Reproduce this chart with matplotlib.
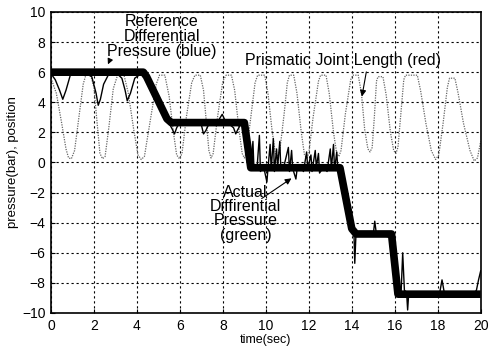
import numpy as np
import matplotlib.pyplot as plt

plt.rcParams['font.family'] = ['Liberation Sans', 'DejaVu Sans']

# Longitud de la junta prismatica (roja en el original)
largo_t = [0.0, 0.25, 0.5, 0.7, 0.82, 0.95, 1.1, 1.3, 1.5, 1.62, 1.85, 2.0, 2.15, 2.28, 2.4, 2.52,
           2.7, 2.9, 3.1, 3.4, 3.6, 3.85, 4.05, 4.2, 4.35, 4.6, 4.9, 5.05, 5.3, 5.5, 5.7, 5.85,
           5.98, 6.1, 6.3, 6.55, 6.7, 6.95, 7.1, 7.25, 7.35, 7.45, 7.55, 7.75, 8.0, 8.15, 8.4,
           8.55, 8.75, 8.9, 9.0, 9.1, 9.3, 9.5, 9.62, 9.95, 10.1, 10.3, 10.45, 10.55, 10.65,
           10.85, 11.0, 11.1, 11.3, 11.45, 11.65, 11.8, 11.9, 12.0, 12.2, 12.45, 12.55, 12.8,
           12.95, 13.15, 13.3, 13.4, 13.5, 13.7, 13.95, 14.05, 14.3, 14.45, 14.6, 14.75, 14.85,
           14.95, 15.05, 15.15, 15.22, 15.45, 15.6, 15.8, 15.95, 16.05, 16.15, 16.3, 16.42,
           16.5, 17.05, 17.2, 17.45, 17.7, 17.9, 18.05, 18.25, 18.45, 18.55, 18.8, 18.95, 19.2,
           19.5, 19.7, 19.85, 20.0]
largo_y = [5.6, 4.6, 2.6, 0.9, 0.3, 0.25, 0.8, 3.0, 5.2, 5.8, 5.8, 5.0, 2.6, 0.6, 0.25, 0.4,
           2.4, 4.9, 5.8, 5.8, 4.6, 2.2, 0.5, 0.2, 0.4, 2.6, 5.2, 5.8, 5.8, 4.4, 2.0, 0.5,
           0.25, 0.6, 3.0, 5.3, 5.8, 5.8, 4.8, 2.4, 0.8, 0.3, 0.6, 3.0, 5.4, 5.8, 5.8,
           4.8, 2.2, 0.6, 0.3, 0.7, 3.0, 5.3, 5.8, 5.8, 4.6, 2.0, 0.6, 0.4, 0.8,
           3.2, 5.3, 5.8, 5.8, 4.6, 2.0, 0.5, 0.3, 0.6, 3.0, 5.4, 5.8, 5.8,
           4.6, 2.0, 0.6, 0.4, 0.8, 3.2, 5.5, 5.8, 5.8, 4.6, 2.2, 0.9, 0.7,
           1.0, 3.0, 5.4, 5.7, 5.7, 4.5, 2.0, 0.8, 0.6, 1.0, 3.5, 5.5,
           5.8, 5.8, 4.8, 2.6, 0.8, 0.2, 0.5, 2.6, 5.0, 5.6, 5.6, 4.6, 2.6,
           0.8, 0.1, 0.3, 1.4]

# Presion diferencial de referencia (azul)
ref_t = [0, 4.3, 4.45, 5.4, 5.6, 9.0, 9.3, 13.45, 14.0, 14.2, 15.85, 16.15, 20]
ref_p = [6.0, 6.0, 5.7, 2.9, 2.65, 2.65, -0.35, -0.35, -4.4, -4.75, -4.75, -8.75, -8.75]

# Presion diferencial real (verde)
real_t = [0.0, 0.2, 0.4, 0.55, 0.7, 0.9, 1.2, 1.5, 1.9, 2.1, 2.2, 2.3, 2.45, 2.7, 3.0, 3.3,
          3.45, 3.55, 3.7, 3.9, 4.2, 4.4, 4.7, 5.0, 5.3, 5.5, 5.65, 5.75, 5.85, 6.0, 6.4, 6.8,
          7.0, 7.1, 7.2, 7.4, 7.8, 7.97, 8.1, 8.5, 8.6, 8.7, 8.9, 9.05, 9.1, 9.2, 9.3,
          9.4, 9.45, 9.6, 9.7, 9.75, 9.9, 10.05, 10.1, 10.2, 10.25, 10.35, 10.4, 10.5, 10.55,
          10.65, 10.7, 10.85, 11.05, 11.1, 11.2, 11.25, 11.4, 11.45, 11.6, 11.75, 11.9, 11.95,
          12.1, 12.15, 12.3, 12.35, 12.45, 12.5, 12.7, 12.85, 13.0, 13.05, 13.15, 13.2, 13.3,
          13.35, 13.45, 13.6, 13.75, 13.9, 14.0, 14.1, 14.14, 14.2, 14.6, 15.0, 15.07, 15.15,
          15.6, 15.8, 15.9, 16.0, 16.1, 16.2, 16.3, 16.37, 16.45, 16.55, 16.6, 16.65, 17.5,
          18.1, 18.2, 18.3, 19.0, 19.6, 19.8, 19.9, 20.0]
real_p = [5.9, 5.5, 4.8, 4.2, 4.8, 5.8, 5.9, 6.0, 5.7, 4.6, 3.8, 4.2, 5.2, 5.9, 6.0, 5.6,
          4.8, 4.1, 4.6, 5.6, 5.9, 5.8, 5.1, 4.0, 3.0, 2.6, 2.2, 1.9, 2.3, 2.7, 2.8, 2.7,
          2.5, 1.9, 2.1, 2.7, 2.8, 3.2, 2.8, 2.3, 1.9, 2.2, 2.7, 2.6, 1.5, 0.2, -0.4,
          1.4, -0.5, -0.2, 1.8, -0.6, -0.3, -1.3, -0.4, 1.2, -0.5, 1.6, -0.6, 0.9, -0.3,
          1.4, -0.5, -0.2, 1.0, -0.6, 0.8, -0.4, -1.1, -0.5, -0.2, -0.6, 0.7, -0.4,
          0.5, -0.6, 0.8, -0.3, 0.6, -0.7, -0.3, -0.6, 0.9, -0.4, 1.2, -0.5, 0.7,
          -0.4, -0.6, -2.0, -3.0, -4.0, -4.4, -4.6, -6.7, -4.6, -4.7, -4.8, -3.9, -4.8,
          -4.9, -5.0, -5.6, -7.0, -8.2, -8.6, -8.5, -6.0, -8.5, -8.6, -9.8, -8.7, -8.8,
          -8.6, -7.8, -8.6, -8.8, -8.8, -8.5, -7.8, -7.2]

fig = plt.figure(figsize=(4.9, 3.48), dpi=100)
ax = fig.add_axes([0.104, 0.1006, 0.877, 0.865])

ax.plot(largo_t, largo_y, color='0.4', lw=0.9, ls=(0, (1, 1)))
ax.plot(ref_t, ref_p, color='black', lw=5.5, solid_capstyle='butt')
ax.plot(real_t, real_p, color='black', lw=1.0)

ax.set_xlim(0, 20)
ax.set_ylim(-10, 10)
ax.set_xticks(np.arange(0, 21, 2))
ax.set_yticks(np.arange(-10, 11, 2))
ax.tick_params(direction='in', labelsize=10, length=3, pad=4)
ax.grid(True, color='black', lw=0.8, ls=(0, (2, 2.5)))
for s in ax.spines.values():
    s.set_linewidth(1.2)

ax.set_xlabel('time(sec)', fontsize=9, labelpad=1)
ax.set_ylabel('pressure(bar), position', fontsize=9.5, labelpad=2)

ax.text(5.15, 8.35, 'Reference\nDifferential\nPressure (blue)', ha='center', va='center',
        fontsize=11.5, linespacing=1.0)
ax.annotate('', xy=(2.6, 6.35), xytext=(2.8, 7.0),
            arrowprops=dict(arrowstyle='-|>', color='black', lw=0.8, mutation_scale=8))

ax.text(13.6, 6.8, 'Prismatic Joint Length (red)', ha='center', va='center', fontsize=11.5)
ax.annotate('', xy=(14.45, 4.2), xytext=(14.7, 6.2),
            arrowprops=dict(arrowstyle='-|>', color='black', lw=0.8, mutation_scale=9))

ax.text(9.05, -3.4, 'Actual\nDiffirential\nPressure\n(green)', ha='center', va='center',
        fontsize=11.5, linespacing=0.95)
ax.annotate('', xy=(11.3, -0.95), xytext=(9.7, -2.5),
            arrowprops=dict(arrowstyle='-|>', color='black', lw=0.8, mutation_scale=9))

fig.savefig('out.png', dpi=100)
